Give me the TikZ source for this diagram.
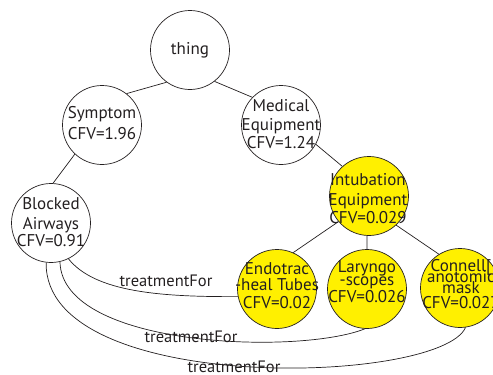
\documentclass[tikz,border=0pt]{standalone}
\usepackage{fontspec}
\setmainfont{PT Sans}
\definecolor{ink}{RGB}{35,31,32}
\definecolor{yel}{RGB}{255,240,0}
\begin{document}
\begin{tikzpicture}[x=1pt,y=-1pt,
  bub/.style={circle,draw=ink,line width=0.7pt,minimum size=79pt,inner sep=0pt},
  yb/.style={bub,fill=yel},
  txt/.style={text=ink,align=center,inner sep=0pt,font=\fontsize{17}{19.5}\selectfont},
  lnk/.style={draw=ink,line width=0.7pt},
  lab/.style={text=ink,inner sep=0pt,font=\fontsize{16.5}{19}\selectfont}]
\useasboundingbox (0,0) rectangle (493,375);
% circles
\node[bub] (thing) at (190,50) {};
\node[bub] (sym) at (102,125) {};
\node[bub] (med) at (281,125) {};
\node[yb] (ie) at (369,196) {};
\node[bub] (ba) at (51,223) {};
\node[yb] (et) at (277,289) {};
\node[yb] (ly) at (367,289) {};
\node[yb] (cm) at (460,288) {};
% texts
\node[txt] (thing-t) at (190,50) {thing};
\node[txt] (sym-t) at (102,123) {Symptom\\[1pt]CFV=1.96};
\node[txt] (med-t) at (281,124) {Medical\\Equipment\\[-2pt]CFV=1.24};
\node[txt] (ie-t) at (368,199) {Intubation\\Equipment\\[-1pt]CFV=0.029};
\node[txt] (ba-t) at (51,222) {Blocked\\[1pt]Airways\\[-3pt]CFV=0.91};
\node[txt] (et-t) at (277,286) {Endotrac\\[-3.5pt]-heal Tubes\\[-1.5pt]CFV=0.02};
\node[txt] (ly-t) at (367,282) {Laryngo\\[-6.5pt]-scopes\\[-2.5pt]CFV=0.026};
\node[txt] (cm-t) at (461,284) {Connell[\\[-8.5pt]anotomic\\[-8.5pt]mask\\[-4.5pt]CFV=0.027};
% tree links
\draw[lnk] (thing.234) -- (sym.52);
\draw[lnk] (thing.308) -- (med.136);
\draw[lnk] (sym.227) -- (ba.87);
\draw[lnk] (med.331) -- (ie.132);
\draw[lnk] (ie.220) -- (et.66);
\draw[lnk] (ie.267) -- (ly.90);
\draw[lnk] (ie.313) -- (cm.122);
% treatmentFor links
\draw[lnk] (ba.-64) .. controls (95,292) and (160,297) .. (et.191);
\draw[lnk] (ba.-77) .. controls (62,348) and (300,355) .. (ly.-93);
\draw[lnk] (ba.-97) .. controls (44,396) and (440,385) .. (cm.-82);
\node[lab] (l1) at (166,280.5) {treatmentFor};
\node[lab] (l2) at (191,336.5) {treatmentFor};
\node[lab] (l3) at (234,366.5) {treatmentFor};
\end{tikzpicture}
\end{document}
